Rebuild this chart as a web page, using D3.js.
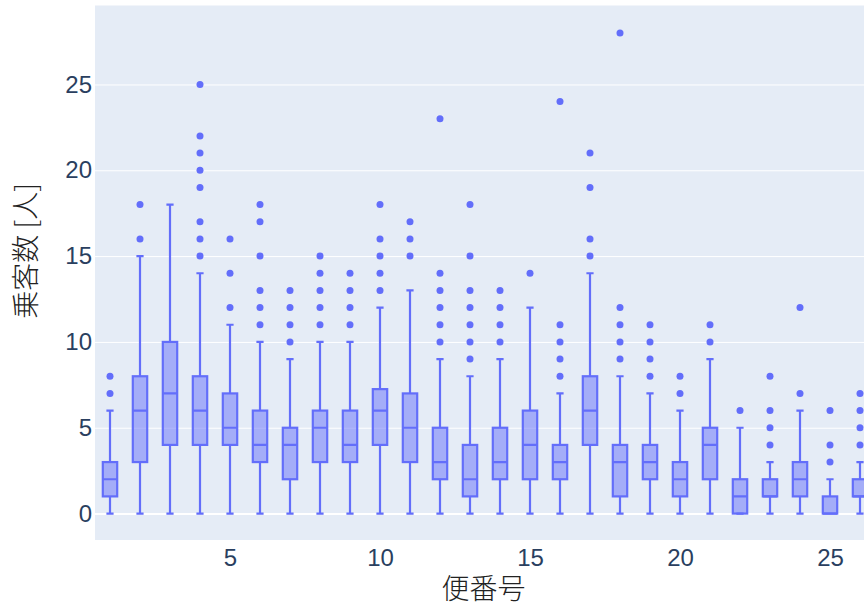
<!DOCTYPE html>
<html>
<head>
<meta charset="utf-8">
<script src="https://cdn.jsdelivr.net/npm/d3@7"></script>
<style>
  html, body { margin: 0; padding: 0; background: #fff; }
  svg { display: block; }
</style>
</head>
<body>
<script>
// Passenger count per flight: box statistics (lower whisker, quartiles, upper whisker) and outliers
const flights    = [1, 2, 3, 4, 5, 6, 7, 8, 9, 10, 11, 12, 13, 14, 15, 16, 17, 18, 19, 20, 21, 22, 23, 24, 25, 26];
const whiskerLow = [0, 0, 0, 0, 0, 0, 0, 0, 0, 0, 0, 0, 0, 0, 0, 0, 0, 0, 0, 0, 0, 0, 0, 0, 0, 0];
const q1         = [1, 3, 4, 4, 4, 3, 2, 3, 3, 4, 3, 2, 1, 2, 2, 2, 4, 1, 2, 1, 2, 0, 1, 1, 0, 1];
const median     = [2, 6, 7, 6, 5, 4, 4, 5, 4, 6, 5, 3, 2, 3, 4, 3, 6, 3, 3, 2, 4, 1, 1, 2, 0, 1];
const q3         = [3, 8, 10, 8, 7, 6, 5, 6, 6, 7.25, 7, 5, 4, 5, 6, 4, 8, 4, 4, 3, 5, 2, 2, 3, 1, 2];
const whiskerHigh= [6, 15, 18, 14, 11, 10, 9, 10, 10, 12, 13, 9, 8, 9, 12, 7, 14, 8, 7, 6, 9, 5, 3, 6, 2, 3];
const outliers = [
  [7, 8],
  [16, 18],
  [],
  [15, 16, 17, 19, 20, 21, 22, 25],
  [12, 14, 16],
  [11, 12, 13, 15, 17, 18],
  [10, 11, 12, 13],
  [11, 12, 13, 14, 15],
  [11, 12, 13, 14],
  [13, 14, 15, 16, 18],
  [15, 16, 17],
  [10, 11, 12, 13, 14, 23],
  [9, 10, 11, 12, 13, 15, 18],
  [10, 11, 12, 13],
  [14],
  [8, 9, 10, 11, 24],
  [15, 16, 19, 21],
  [9, 10, 11, 12, 28],
  [8, 9, 10, 11],
  [7, 8],
  [10, 11],
  [6],
  [4, 5, 6, 8],
  [7, 12],
  [3, 4, 6],
  [4, 5, 6, 7]
];
const yTicks = [0, 5, 10, 15, 20, 25];
const xTicks = [5, 10, 15, 20, 25];
const xTitle = "便番号";
const yTitle = "乗客数 [人]";

const W = 864, H = 610;
const plot = { left: 95, top: 5.5, right: 872, bottom: 540 };
const lineColor = "#636efa";
const fillColor = "rgba(99,110,250,0.5)";
const tickColor = "#2a3f5f";

const svg = d3.select("body").append("svg")
  .attr("width", W).attr("height", H);

const x = d3.scaleLinear().domain([0.5, 26.4]).range([plot.left, plot.right]);
const y = d3.scaleLinear().domain([-1.54, 29.6]).range([plot.bottom, plot.top]);

const defs = svg.append("defs");
defs.append("clipPath").attr("id", "plotclip")
  .append("rect")
  .attr("x", plot.left).attr("y", plot.top)
  .attr("width", plot.right - plot.left).attr("height", plot.bottom - plot.top);

// plot background
svg.append("rect")
  .attr("x", plot.left).attr("y", plot.top)
  .attr("width", plot.right - plot.left).attr("height", plot.bottom - plot.top)
  .attr("fill", "#e5ecf6");

// horizontal grid
const yAxis = d3.axisLeft(y).tickValues(yTicks).tickSize(-(plot.right - plot.left)).tickPadding(3);
const gy = svg.append("g").attr("transform", `translate(${plot.left},0)`).call(yAxis);
gy.select(".domain").remove();
gy.selectAll(".tick line").attr("stroke", "#fff").attr("stroke-width", d => d === 0 ? 2 : 1);
gy.selectAll(".tick text")
  .attr("fill", tickColor)
  .style("font-family", "'Liberation Sans', Arial, sans-serif")
  .style("font-size", "24px");

// x axis labels (no vertical grid)
const xAxis = d3.axisBottom(x).tickValues(xTicks).tickSize(0).tickPadding(0);
const gx = svg.append("g").attr("transform", `translate(0,${plot.bottom})`).call(xAxis);
gx.select(".domain").remove();
gx.selectAll(".tick text")
  .attr("fill", tickColor)
  .attr("dy", null)
  .attr("y", 26)
  .style("font-family", "'Liberation Sans', Arial, sans-serif")
  .style("font-size", "24px");

// boxes
const boxes = flights.map((f, i) => ({
  f, lo: whiskerLow[i], q1: q1[i], med: median[i], q3: q3[i], hi: whiskerHigh[i], out: outliers[i]
}));

const halfBox = 0.24;   // half box width in data units
const halfCap = 0.12;

const g = svg.append("g").attr("clip-path", "url(#plotclip)");

const bg = g.selectAll("g.box").data(boxes).join("g").attr("class", "box");

bg.append("rect")
  .attr("x", d => x(d.f - halfBox))
  .attr("width", d => x(d.f + halfBox) - x(d.f - halfBox))
  .attr("y", d => y(d.q3))
  .attr("height", d => y(d.q1) - y(d.q3))
  .attr("fill", fillColor)
  .attr("stroke", lineColor)
  .attr("stroke-width", 2.2);

bg.append("path")
  .attr("d", d => {
    const xl = x(d.f - halfBox), xr = x(d.f + halfBox), xc = x(d.f);
    const cl = x(d.f - halfCap), cr = x(d.f + halfCap);
    return `M${xl},${y(d.med)}H${xr}` +
           `M${xc},${y(d.q3)}V${y(d.hi)}M${cl},${y(d.hi)}H${cr}` +
           `M${xc},${y(d.q1)}V${y(d.lo)}M${cl},${y(d.lo)}H${cr}`;
  })
  .attr("fill", "none")
  .attr("stroke", lineColor)
  .attr("stroke-width", 2.2);

bg.selectAll("circle")
  .data(d => d.out.map(v => ({ f: d.f, v })))
  .join("circle")
  .attr("cx", d => x(d.f))
  .attr("cy", d => y(d.v))
  .attr("r", 3.5)
  .attr("fill", lineColor);

// axis titles
svg.append("text")
  .attr("x", (plot.left + plot.right) / 2)
  .attr("y", 599)
  .attr("text-anchor", "middle")
  .attr("fill", "#222")
  .style("font-family", "'Noto Sans CJK JP', sans-serif")
  .style("font-weight", 300)
  .style("font-size", "28px")
  .text(xTitle);

svg.append("text")
  .attr("transform", `translate(36,${(plot.top + plot.bottom) / 2 - 22}) rotate(-90)`)
  .attr("text-anchor", "middle")
  .attr("fill", "#222")
  .style("font-family", "'Noto Sans CJK JP', sans-serif")
  .style("font-weight", 300)
  .style("font-size", "28px")
  .text(yTitle);
</script>
</body>
</html>
